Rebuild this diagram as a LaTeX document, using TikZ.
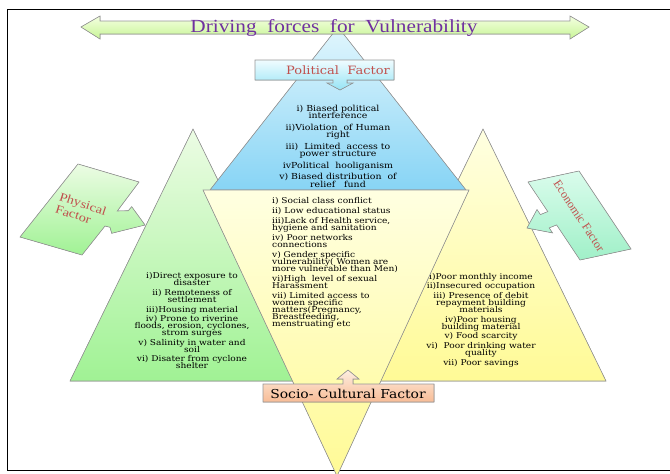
\documentclass[tikz,border=0pt]{standalone}
\usepackage{fontspec}
\setmainfont{Liberation Serif}
\newfontfamily\listfont[FakeStretch=1.13]{DejaVu Serif}
\newfontfamily\titlefont[FakeStretch=1.15]{Liberation Serif}
\newfontfamily\labelfont[FakeStretch=1.2]{Liberation Serif}
\newcommand\tightlines{\lineskiplimit=-20pt\relax}
\usetikzlibrary{shadings}

\definecolor{titlepurple}{RGB}{112,48,160}
\definecolor{factorred}{RGB}{192,80,77}
\definecolor{edgegray}{RGB}{150,150,150}
\definecolor{arrowlight}{RGB}{244,255,225}
\definecolor{arrowdark}{RGB}{200,245,150}
\definecolor{bluelight}{RGB}{225,246,253}
\definecolor{bluedark}{RGB}{135,212,245}
\definecolor{greenlight}{RGB}{236,252,228}
\definecolor{greendark}{RGB}{160,242,148}
\definecolor{yellowlight}{RGB}{255,255,225}
\definecolor{yellowdark}{RGB}{255,250,150}
\definecolor{peachlight}{RGB}{253,238,225}
\definecolor{peachdark}{RGB}{248,188,150}
\definecolor{mintlight}{RGB}{218,252,236}
\definecolor{mintdark}{RGB}{160,240,200}
\definecolor{cyanlight}{RGB}{240,252,255}
\definecolor{cyandark}{RGB}{150,228,245}

\tikzset{
  shapeedge/.style={draw=edgegray,line width=0.6pt,line join=miter},
  listtext/.style={font=\listfont\fontsize{8}{7}\selectfont\tightlines,inner sep=0pt},
  factorlabel/.style={text=factorred,inner sep=0pt}
}

\begin{document}
\begin{tikzpicture}[x=1pt,y=-1pt]
\useasboundingbox (0,0) rectangle (670,474);

% frame
\draw[line width=1pt] (671,9) -- (7,9) -- (7,470) -- (671,470);

% physical and economic triangles
\fill[shapeedge,top color=greenlight,bottom color=greendark] (193,129) -- (316,381) -- (70,381) -- cycle;
\fill[shapeedge,top color=yellowlight,bottom color=yellowdark] (483,129) -- (606,381) -- (360,381) -- cycle;

% political triangle
\fill[shapeedge,top color=bluelight,bottom color=bluedark] (338,27) -- (466,190) -- (210,190) -- cycle;

\node[listtext,align=center] (phys) at (192,321) {i)Direct exposure to\\disaster\\[2.6pt]
ii) Remoteness of\\settlement\\[2.6pt]
iii)Housing material\\[2.6pt]
iv) Prone to riverine\\floods, erosion, cyclones,\\strom surges\\[2.6pt]
v) Salinity in water and\\soil\\[2.6pt]
vi) Disater from cyclone\\shelter};

\node[listtext,align=center] (econ) at (481,320) {i)Poor monthly income\\[2.7pt]
ii)Insecured occupation\\[2.7pt]
iii) Presence of debit\\repayment building\\materials\\[2.7pt]
iv)Poor housing\\building material\\[2.7pt]
v) Food scarcity\\[2.7pt]
vi)\ \ Poor drinking water\\quality\\[2.7pt]
vii) Poor savings};

\node[listtext,align=center,font=\listfont\fontsize{8.3}{7.5}\selectfont\tightlines] (poli) at (338,146) {i) Biased political\\interference\\[4pt]
ii)Violation\ \ of Human\\right\\[4pt]
iii)\ \ Limited\ \ access to\\power structure\\[4pt]
ivPolitical\ \ hooliganism\\[4pt]
v) Biased distribution\ \ of\\relief\ \ \ fund};

% socio-cultural triangle
\fill[shapeedge,top color=yellowlight,bottom color=yellowdark] (203,190) -- (469,190) -- (337,476) -- cycle;

\node[listtext,align=left,anchor=north west] (soc) at (272,197) {i) Social class conflict\\[3pt]
ii) Low educational status\\[3pt]
iii)Lack of Health service,\\hygiene and sanitation\\[3pt]
iv) Poor networks\\connections\\[3pt]
v) Gender specific\\vulnerability( Women are\\more vulnerable than Men)\\[3pt]
vi)High\ \ level of sexual\\Harassment\\[3pt]
vii) Limited access to\\women specific\\matters(Pregnancy,\\Breastfeeding,\\menstruating etc};

% socio-cultural label with up arrow
\fill[shapeedge,top color=peachlight,bottom color=peachdark]
  (263,384) -- (343,384) -- (343,379) -- (337,379) -- (348,370) -- (359,379) -- (353,379) -- (353,384)
  -- (434,384) -- (434,402) -- (263,402) -- cycle;
\node[font=\listfont\fontsize{12.3}{12}\selectfont,inner sep=0pt] (soclab) at (348,393.5) {Socio- Cultural Factor};

% title arrow
\fill[shapeedge,top color=arrowlight,bottom color=arrowdark]
  (81,27) -- (100,16) -- (100,21) -- (570,21) -- (570,16) -- (589,27) -- (570,39) -- (570,34) -- (100,34) -- (100,39) -- cycle;
\node[text=titlepurple,font=\titlefont\fontsize{18.5}{18}\selectfont,inner sep=0pt] (title) at (334,27.5) {Driving\ \ forces\ \ for\ \ Vulnerability};

% political label with down arrow
\fill[shapeedge,top color=cyanlight,bottom color=cyandark]
  (255,60) -- (394,60) -- (394,80) -- (347,80) -- (347,83) -- (353,83) -- (340,90) -- (327,83) -- (333,83) -- (333,80) -- (255,80) -- cycle;
\node[factorlabel,font=\listfont\fontsize{11.5}{11}\selectfont] (polilab) at (338,70) {Political\ \ Factor};

% physical callout
\fill[shapeedge,top color=greenlight,bottom color=greendark]
  (78,164) -- (139,182) -- (117.3,211) -- (128.3,210.7) -- (131.7,206.7) -- (145,225) -- (111.7,233.3) -- (110,227.3)
  -- (105,226) -- (82,255) -- (20,237) -- cycle;
\node[factorlabel,font=\labelfont\fontsize{12}{13}\selectfont,rotate=-18,align=left] (physlab) at (81,210) {Physical\\Factor};

% economic callout
\fill[shapeedge,top color=mintlight,bottom color=mintdark]
  (528,182) -- (579,171) -- (631,249) -- (580,260) -- (556.6,224.9) -- (549.2,227.9) -- (552.5,232.9) -- (527,228)
  -- (537,209.6) -- (540.4,214.6) -- (547.8,211.6) -- cycle;
\node[factorlabel,font=\fontsize{12}{12}\selectfont,rotate=-56.5] (econlab) at (579,216) {Economic Factor};
\end{tikzpicture}
\end{document}
